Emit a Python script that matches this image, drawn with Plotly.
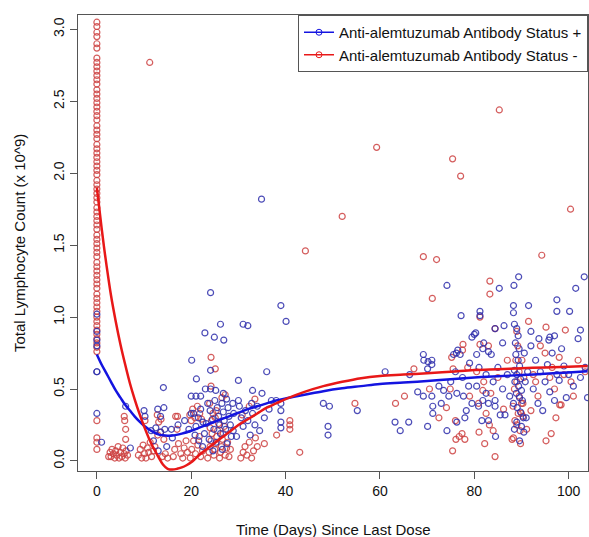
import plotly.graph_objects as go

# ---------------- data ----------------
red_col0_y = [3.05, 3.02, 2.98, 2.95, 2.90, 2.87, 2.80, 2.77, 2.74, 2.71, 2.68, 2.65, 2.62, 2.58,
              2.55, 2.52, 2.49, 2.46, 2.43, 2.40, 2.37, 2.33, 2.30, 2.27, 2.24, 2.20, 2.17, 2.14,
              2.11, 2.08, 2.05, 2.02, 1.99, 1.95, 1.92, 1.89, 1.86, 1.83, 1.80, 1.76, 1.73, 1.70,
              1.67, 1.64, 1.61, 1.57, 1.54, 1.51, 1.48, 1.45, 1.42, 1.38, 1.35, 1.32, 1.29, 1.26,
              1.23, 1.20, 1.16, 1.13, 1.10, 1.07, 1.04, 1.00, 0.97, 0.94, 0.91, 0.88, 0.85, 0.82,
              0.79, 0.76, 0.28, 0.16, 0.13, 0.08]

red_pts = [
    (2.8, 0.06), (3.0, 0.03), (3.2, 0.08), (3.5, 0.05), (3.8, 0.02), (4.0, 0.07), (4.2, 0.04),
    (4.5, 0.10), (4.7, 0.02), (5.0, 0.06), (5.3, 0.03), (5.5, 0.09), (5.8, 0.05), (6.0, 0.02),
    (6.2, 0.07), (6.5, 0.04), (2.5, 0.03),
    (5.9, 0.28), (6.1, 0.22), (6.1, 0.15), (5.8, 0.31),
    (8.8, 0.04), (9.2, 0.08), (9.5, 0.02), (9.8, 0.11), (10.1, 0.05), (10.4, 0.02), (10.7, 0.09),
    (11.0, 0.06), (11.3, 0.13), (11.6, 0.03), (12.0, 0.07), (12.3, 0.10), (10.2, 0.28),
    (12.8, 0.32), (13.1, 0.27), (13.6, 0.29), (12.9, 0.18), (13.5, 0.20), (14.2, 0.15),
    (14.5, 0.05), (15.0, 0.02), (13.9, 0.03),
    (16.2, 0.03), (16.5, 0.08), (16.7, 0.31), (17.1, 0.31), (17.3, 0.12), (17.8, 0.05),
    (18.2, 0.02), (18.5, 0.09), (18.9, 0.14), (19.2, 0.06), (17.0, 0.22),
    (19.7, 0.32), (20.0, 0.28), (20.3, 0.36), (20.8, 0.30), (21.3, 0.38), (21.8, 0.33),
    (22.2, 0.29), (19.8, 0.02), (20.1, 0.08), (20.5, 0.14), (20.9, 0.05), (21.4, 0.11),
    (21.7, 0.17), (22.0, 0.03), (22.4, 0.07),
    (23.5, 0.02), (23.8, 0.06), (24.0, 0.10), (24.2, 0.14), (24.4, 0.19), (24.0, 0.23),
    (24.3, 0.28), (24.6, 0.33), (24.8, 0.04), (25.0, 0.08), (25.2, 0.12), (25.4, 0.17),
    (25.6, 0.21), (25.8, 0.26), (25.1, 0.30), (25.3, 0.35), (26.0, 0.02), (26.2, 0.06),
    (26.4, 0.10), (26.6, 0.15), (26.8, 0.19), (27.0, 0.24), (27.2, 0.04), (27.5, 0.09),
    (27.7, 0.13), (24.2, 0.72), (25.1, 0.64), (24.2, 0.52), (27.2, 0.46), (26.5, 0.44),
    (23.9, 0.40), (28.0, 0.03), (28.3, 0.08),
    (30.5, 0.02), (31.0, 0.06), (31.4, 0.10), (31.8, 0.04), (32.3, 0.13), (32.8, 0.02),
    (33.2, 0.07), (33.6, 0.16), (34.0, 0.10), (30.8, 0.32), (33.5, 0.43), (32.3, 0.38),
    (38.1, 0.18), (40.9, 0.28), (40.9, 0.25), (40.9, 0.22), (43.0, 0.06), (35.5, 0.12),
    (44.2, 1.46), (52.0, 1.70), (59.3, 2.18), (54.7, 0.40), (63.3, 0.40), (65.2, 0.45),
    (67.2, 0.64), (69.2, 1.42), (72.0, 1.40), (71.1, 1.13), (70.5, 0.50), (75.4, 2.10),
    (77.1, 1.98), (11.2, 2.77), (85.3, 2.44),
    (75.2, 0.72), (77.6, 0.81), (74.9, 0.50), (74.1, 0.37), (76.0, 0.28), (75.4, 0.07),
    (76.1, 0.15), (76.8, 0.17), (77.4, 0.19), (78.0, 0.15), (79.0, 0.45), (72.5, 0.30),
    (75.5, 0.64), (77.5, 0.77), (78.6, 0.65),
    (81.2, 1.00), (83.3, 1.25), (83.3, 1.16), (84.4, 0.92), (81.2, 0.81), (83.0, 0.80),
    (80.9, 0.40), (81.8, 0.49), (82.5, 0.33), (83.5, 0.47), (83.2, 0.25), (84.0, 0.21),
    (84.4, 0.03), (82.0, 0.55), (80.5, 0.62), (86.2, 0.36), (85.0, 0.58), (87.0, 0.70),
    (81.0, 0.20), (82.2, 0.12),
    (88.3, 0.16), (88.0, 0.15), (89.0, 0.25), (89.3, 0.33), (89.5, 0.45), (89.7, 0.21),
    (90.0, 0.40), (90.0, 0.33), (90.3, 0.40), (90.3, 0.31), (89.0, 0.55), (89.5, 0.62),
    (88.8, 0.70), (89.2, 0.80), (89.0, 0.90), (88.5, 0.50), (90.5, 0.58), (91.1, 0.22),
    (88.2, 0.38), (89.8, 0.12), (90.1, 0.70), (88.6, 0.28),
    (91.5, 0.97), (95.2, 0.93), (99.3, 0.91), (94.3, 1.43), (100.4, 1.75), (96.3, 0.19),
    (95.2, 0.14), (97.3, 0.30), (98.4, 0.39), (98.1, 0.39), (92.5, 0.60), (93.5, 0.45),
    (94.0, 0.80), (95.0, 0.75), (96.0, 0.58), (97.0, 0.50), (98.0, 0.72), (99.0, 0.60),
    (100.5, 0.55), (102.0, 0.70), (103.5, 0.62), (92.0, 0.35), (93.0, 0.55), (101.0, 0.45),
    (96.5, 0.65),
]

blue_pts = [
    (0, 1.02), (0, 0.90), (0, 0.84), (0, 0.80), (0, 0.62), (0, 0.62), (0, 0.33), (1.0, 0.13),
    (6.1, 0.38), (7.1, 0.09), (10.0, 0.35), (10.2, 0.31), (12.9, 0.36), (14.1, 0.51),
    (14.2, 0.37), (13.5, 0.31), (11.5, 0.21), (12.5, 0.23), (13.5, 0.20), (14.4, 0.22),
    (15.8, 0.22), (17.2, 0.25), (18.6, 0.28), (12.0, 0.14), (14.8, 0.10), (16.0, 0.16),
    (13.0, 0.07),
    (20.1, 0.70), (21.1, 0.57), (20.0, 0.45), (21.0, 0.45), (22.0, 0.45), (23.0, 0.50),
    (20.0, 0.33), (20.5, 0.33), (19.5, 0.22), (21.0, 0.24), (21.5, 0.30), (22.0, 0.36),
    (22.5, 0.27), (22.8, 0.19), (21.6, 0.14), (22.9, 0.89), (22.4, 0.10), (20.8, 0.18),
    (24.1, 1.17), (24.9, 0.86), (26.2, 0.95), (26.9, 0.84), (24.1, 0.63), (24.1, 0.50),
    (25.2, 0.49), (26.8, 0.47), (23.5, 0.40), (24.0, 0.35), (24.5, 0.29), (24.8, 0.22),
    (25.0, 0.42), (25.5, 0.37), (25.8, 0.31), (26.0, 0.25), (26.2, 0.19), (26.5, 0.40),
    (26.8, 0.34), (27.0, 0.28), (27.3, 0.22), (27.5, 0.43), (27.8, 0.37), (28.0, 0.31),
    (28.3, 0.25), (28.5, 0.17), (28.8, 0.40), (29.0, 0.33), (23.2, 0.26), (23.8, 0.15),
    (25.3, 0.13), (27.6, 0.12), (28.9, 0.21), (26.6, 0.08), (24.6, 0.07),
    (31.0, 0.95), (32.0, 0.94), (30.0, 0.56), (33.0, 0.49), (35.0, 0.47), (36.0, 0.62),
    (34.9, 1.82), (30.2, 0.38), (30.6, 0.30), (31.0, 0.24), (31.5, 0.35), (32.0, 0.28),
    (32.5, 0.18), (33.0, 0.33), (33.5, 0.25), (34.0, 0.38), (34.5, 0.21), (30.0, 0.42),
    (32.8, 0.40), (35.5, 0.30), (29.6, 0.17),
    (39.0, 1.08), (40.1, 0.97), (37.0, 0.42), (38.0, 0.42), (39.0, 0.40), (39.0, 0.35),
    (39.0, 0.27), (39.0, 0.23), (36.5, 0.36),
    (48.0, 0.40), (49.3, 0.38), (55.2, 0.35), (49.0, 0.24), (49.0, 0.18), (61.1, 0.62),
    (66.3, 0.60), (63.2, 0.27), (64.3, 0.21), (66.1, 0.27), (68.0, 0.48), (69.2, 0.45),
    (71.0, 0.45), (71.2, 0.38), (71.2, 0.33), (70.1, 0.24), (69.2, 0.74), (69.3, 0.70),
    (70.2, 0.69), (71.0, 0.70), (71.0, 0.67), (70.1, 0.64),
    (74.2, 1.22), (77.2, 1.01), (75.6, 0.74), (76.2, 0.75), (77.0, 0.74), (76.5, 0.77),
    (73.5, 0.49), (74.6, 0.45), (76.3, 0.47), (77.7, 0.45), (78.3, 0.35), (76.3, 0.27),
    (74.2, 0.21), (73.0, 0.40), (75.0, 0.55), (77.5, 0.58), (78.8, 0.52), (79.5, 0.86),
    (80.0, 0.88), (79.0, 0.68), (78.0, 0.30), (79.5, 0.40), (72.5, 0.52), (76.0, 0.62),
    (81.2, 1.04), (81.2, 1.01), (85.3, 1.20), (86.3, 0.94), (84.4, 0.92), (80.3, 0.89),
    (82.0, 0.82), (80.5, 0.74), (81.8, 0.78), (83.0, 0.76), (83.6, 0.74), (80.9, 0.38),
    (81.8, 0.42), (82.5, 0.47), (83.0, 0.40), (84.4, 0.42), (84.4, 0.38), (85.5, 0.32),
    (86.5, 0.32), (81.6, 0.28), (83.0, 0.28), (84.0, 0.55), (85.0, 0.65), (86.0, 0.50),
    (87.0, 0.60), (82.5, 0.60), (80.5, 0.52), (84.5, 0.17), (86.0, 0.82), (87.5, 0.45),
    (81.0, 0.65),
    (88.4, 1.22), (89.4, 1.28), (88.3, 1.08), (88.3, 1.03), (88.5, 0.95), (89.0, 0.92),
    (89.3, 0.87), (88.7, 0.82), (89.5, 0.78), (88.8, 0.74), (89.3, 0.70), (89.6, 0.66),
    (88.5, 0.63), (89.0, 0.60), (89.8, 0.57), (88.6, 0.55), (89.4, 0.52), (90.0, 0.49),
    (88.9, 0.47), (89.6, 0.44), (90.2, 0.42), (88.3, 0.40), (89.1, 0.37), (89.8, 0.34),
    (90.4, 0.30), (89.0, 0.27), (90.0, 0.24), (88.5, 0.22), (90.5, 0.20), (89.6, 0.14),
    (91.0, 0.30), (90.8, 0.55), (90.6, 0.75), (91.3, 0.62),
    (91.5, 1.08), (97.5, 1.12), (97.5, 1.04), (100.2, 1.04), (101.5, 1.20), (103.3, 1.28),
    (102.5, 0.91), (102.0, 0.85), (96.0, 0.86), (97.0, 0.87), (95.8, 0.84), (99.5, 0.44),
    (104.0, 0.44), (92.0, 0.80), (93.0, 0.70), (94.0, 0.62), (95.0, 0.55), (96.0, 0.48),
    (97.0, 0.42), (98.0, 0.56), (99.0, 0.66), (100.0, 0.60), (101.0, 0.52), (102.5, 0.58),
    (103.5, 0.65), (92.5, 0.50), (93.5, 0.40), (94.5, 0.35), (95.5, 0.67), (96.5, 0.75),
    (98.5, 0.78), (97.5, 0.60), (92.0, 0.90), (93.7, 0.85),
]

red_x = [0.0] * len(red_col0_y) + [p[0] for p in red_pts]
red_y = list(red_col0_y) + [p[1] for p in red_pts]
blue_x = [p[0] for p in blue_pts]
blue_y = [p[1] for p in blue_pts]

# smoothed fits
blue_fit_x = [0, 1, 2, 3, 4, 5, 6, 7, 8, 9, 10, 11, 12, 13, 14, 15, 16, 18, 20, 22, 24, 26, 28,
              30, 32, 34, 36, 38, 40, 44, 48, 52, 56, 60, 65, 70, 75, 80, 85, 90, 95, 100, 104]
blue_fit_y = [0.74, 0.67, 0.61, 0.55, 0.49, 0.44, 0.39, 0.35, 0.31, 0.275, 0.245, 0.22, 0.20,
              0.185, 0.178, 0.175, 0.176, 0.19, 0.21, 0.235, 0.26, 0.285, 0.31, 0.335, 0.36,
              0.38, 0.40, 0.42, 0.435, 0.46, 0.485, 0.505, 0.52, 0.535, 0.545, 0.556, 0.568,
              0.58, 0.589, 0.597, 0.606, 0.615, 0.623]
red_fit_x = [0, 0.5, 1, 1.5, 2, 3, 4, 5, 6, 7, 8, 9, 10, 11, 12, 13, 14, 15, 16, 17, 18, 19, 20,
             21, 22, 24, 26, 28, 30, 32, 34, 36, 38, 40, 44, 48, 52, 56, 60, 65, 70, 75, 80, 85,
             90, 95, 100, 104]
red_fit_y = [1.90, 1.76, 1.62, 1.49, 1.37, 1.15, 0.97, 0.81, 0.67, 0.54, 0.43, 0.33, 0.24, 0.16,
             0.09, 0.03, -0.025, -0.055, -0.06, -0.055, -0.045, -0.03, -0.01, 0.02, 0.05, 0.10,
             0.15, 0.20, 0.25, 0.29, 0.33, 0.37, 0.40, 0.43, 0.48, 0.52, 0.55, 0.575, 0.59,
             0.60, 0.61, 0.62, 0.632, 0.638, 0.644, 0.65, 0.655, 0.66]

x_ticks = [0, 20, 40, 60, 80, 100]
y_ticks = [0.0, 0.5, 1.0, 1.5, 2.0, 2.5, 3.0]
y_tick_text = ["0.0", "0.5", "1.0", "1.5", "2.0", "2.5", "3.0"]
legend_names = ["Anti-alemtuzumab Antibody Status +", "Anti-alemtuzumab Antibody Status -"]
x_title = "Time (Days) Since Last Dose"
y_title = "Total Lymphocyte Count (x 10^9)"

# ---------------- styles ----------------
BLUE_M = "rgba(45,45,170,0.85)"
RED_M = "rgba(205,65,65,0.85)"
BLUE_L = "#1414e0"
RED_L = "#e81818"
FONT = "Liberation Sans, Arial, sans-serif"

fig = go.Figure()
fig.add_trace(go.Scatter(x=red_x, y=red_y, mode="markers", showlegend=False,
                         marker=dict(symbol="circle-open", size=6, color=RED_M,
                                     line=dict(width=1.2))))
fig.add_trace(go.Scatter(x=blue_x, y=blue_y, mode="markers", showlegend=False,
                         marker=dict(symbol="circle-open", size=6, color=BLUE_M,
                                     line=dict(width=1.2))))
fig.add_trace(go.Scatter(x=blue_fit_x, y=blue_fit_y, mode="lines", showlegend=False,
                         line=dict(color=BLUE_L, width=2.5, shape="spline")))
fig.add_trace(go.Scatter(x=red_fit_x, y=red_fit_y, mode="lines", showlegend=False,
                         line=dict(color=RED_L, width=2.5, shape="spline")))
# legend entries
fig.add_trace(go.Scatter(x=[None], y=[None], mode="lines+markers", name=legend_names[0],
                         line=dict(color=BLUE_L, width=1.5),
                         marker=dict(symbol="circle-open", size=6, color=BLUE_L)))
fig.add_trace(go.Scatter(x=[None], y=[None], mode="lines+markers", name=legend_names[1],
                         line=dict(color=RED_L, width=1.5),
                         marker=dict(symbol="circle-open", size=6, color=RED_L)))

axis_common = dict(showline=True, linecolor="#555555", linewidth=1, mirror=True,
                   ticks="outside", ticklen=7, tickcolor="#555555", showgrid=False,
                   zeroline=False, tickfont=dict(family=FONT, size=14, color="#111111"))

fig.update_xaxes(range=[-4, 104.1], tickvals=x_ticks, **axis_common)
fig.update_yaxes(range=[-0.07, 3.10], tickvals=y_ticks, ticktext=y_tick_text,
                 tickangle=-90, **axis_common)

fig.update_layout(
    width=589, height=537,
    margin=dict(l=78, r=1, t=15, b=66),
    paper_bgcolor="white", plot_bgcolor="white",
    font=dict(family=FONT, size=14, color="#111111"),
    legend=dict(x=1, y=1, xanchor="right", yanchor="top", bordercolor="#555555",
                borderwidth=1, bgcolor="white", font=dict(size=15),
                tracegroupgap=0, itemwidth=30),
    annotations=[
        dict(text=x_title, xref="paper", yref="paper",
             x=0.5, y=-(529 - 471) / 456, xanchor="center", yanchor="middle",
             showarrow=False, font=dict(size=15)),
        dict(text=y_title, xref="paper", yref="paper",
             x=-(78 - 19) / 510, y=0.5, xanchor="center", yanchor="middle",
             textangle=-90, showarrow=False, font=dict(size=15)),
    ],
)

fig.write_html("out.html", config={"displayModeBar": False},
               post_script="document.body.style.margin='0px';")
